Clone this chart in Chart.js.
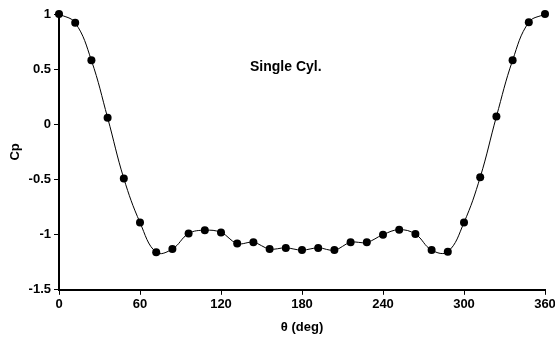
<!DOCTYPE html>
<html>
<head>
<meta charset="utf-8">
<title>Single Cyl.</title>
<script src="https://cdn.jsdelivr.net/npm/chart.js@4.4.1/dist/chart.umd.min.js"></script>
<style>
  html, body { margin: 0; padding: 0; background: #fff; }
  #wrap { width: 555px; height: 339px; position: relative; }
</style>
</head>
<body>
<div id="wrap"><canvas id="cpChart"></canvas></div>
<script>
'use strict';

// pressure coefficient around a single cylinder, every 12 degrees
const theta = [0, 12, 24, 36, 48, 60, 72, 84, 96, 108, 120, 132, 144, 156, 168, 180,
  192, 204, 216, 228, 240, 252, 264, 276, 288, 300, 312, 324, 336, 348, 360];
const cp = [1.0, 0.92, 0.58, 0.06, -0.49, -0.89, -1.16, -1.13, -0.99, -0.96, -0.98, -1.08,
  -1.07, -1.13, -1.12, -1.14, -1.12, -1.14, -1.07, -1.07, -1.0, -0.955, -0.995, -1.14,
  -1.155, -0.89, -0.48, 0.07, 0.58, 0.925, 1.0];

const xTicks = ['0', '60', '120', '180', '240', '300', '360'];
const yTicks = ['-1.5', '-1', '-0.5', '0', '0.5', '1'];

const tickFont = { family: 'Liberation Sans, Arial, sans-serif', size: 13, weight: 'bold' };

// text note placed in data coordinates
const notePlugin = {
  id: 'note',
  afterDatasetsDraw(chart) {
    const ctx = chart.ctx;
    const x = chart.scales.x.getPixelForValue(168);
    const y = chart.scales.y.getPixelForValue(0.52);
    ctx.save();
    ctx.font = 'bold 14px Liberation Sans, Arial, sans-serif';
    ctx.fillStyle = '#000';
    ctx.textAlign = 'center';
    ctx.textBaseline = 'middle';
    ctx.fillText('Single Cyl.', x, y);
    ctx.restore();
  }
};

function displayChart() {
  const points = theta.map((t, i) => ({ x: t, y: cp[i] }));

  const chartGraphics = {
    type: 'line',
    data: {
      datasets: [{
        label: 'Cp',
        data: points,
        borderColor: '#000',
        borderWidth: 1,
        backgroundColor: '#000',
        pointBackgroundColor: '#000',
        pointBorderColor: '#000',
        pointRadius: 4,
        pointBorderWidth: 0,
        tension: 0.4,
        fill: false,
        clip: false
      }]
    },
    options: {
      responsive: false,
      animation: false,
      layout: { padding: { left: 8, right: 0, top: 14, bottom: 4 } },
      plugins: {
        legend: { display: false },
        tooltip: { enabled: false }
      },
      scales: {
        x: {
          type: 'linear',
          min: 0,
          max: 360,
          afterBuildTicks(axis) {
            axis.ticks = xTicks.map(v => ({ value: Number(v) }));
          },
          // let the last label run to the canvas edge
          afterFit(axis) {
            axis.paddingRight = 10;
          },
          ticks: {
            font: tickFont,
            color: '#000',
            maxRotation: 0,
            padding: 2,
            callback: (v) => xTicks.find(s => Number(s) === v)
          },
          grid: {
            drawOnChartArea: false,
            tickLength: 5,
            tickColor: '#000',
            tickWidth: 1
          },
          border: { color: '#000', width: 2 },
          title: {
            display: true,
            text: 'θ (deg)',
            font: tickFont,
            color: '#000',
            padding: { top: 5, bottom: 0 }
          }
        },
        y: {
          type: 'linear',
          min: -1.5,
          max: 1,
          afterBuildTicks(axis) {
            axis.ticks = yTicks.map(v => ({ value: Number(v) }));
          },
          ticks: {
            font: tickFont,
            color: '#000',
            padding: 3,
            callback: (v) => yTicks.find(s => Number(s) === v)
          },
          grid: {
            drawOnChartArea: false,
            tickLength: 5,
            tickColor: '#000',
            tickWidth: 1
          },
          border: { color: '#000', width: 2 },
          title: {
            display: true,
            text: 'Cp',
            font: tickFont,
            color: '#000',
            padding: { top: 0, bottom: 2 }
          }
        }
      }
    },
    plugins: [notePlugin]
  };

  const canvasChart = document.getElementById('cpChart');
  canvasChart.width = 555;
  canvasChart.height = 339;
  new Chart(canvasChart.getContext('2d'), chartGraphics);
}

displayChart();
</script>
</body>
</html>
